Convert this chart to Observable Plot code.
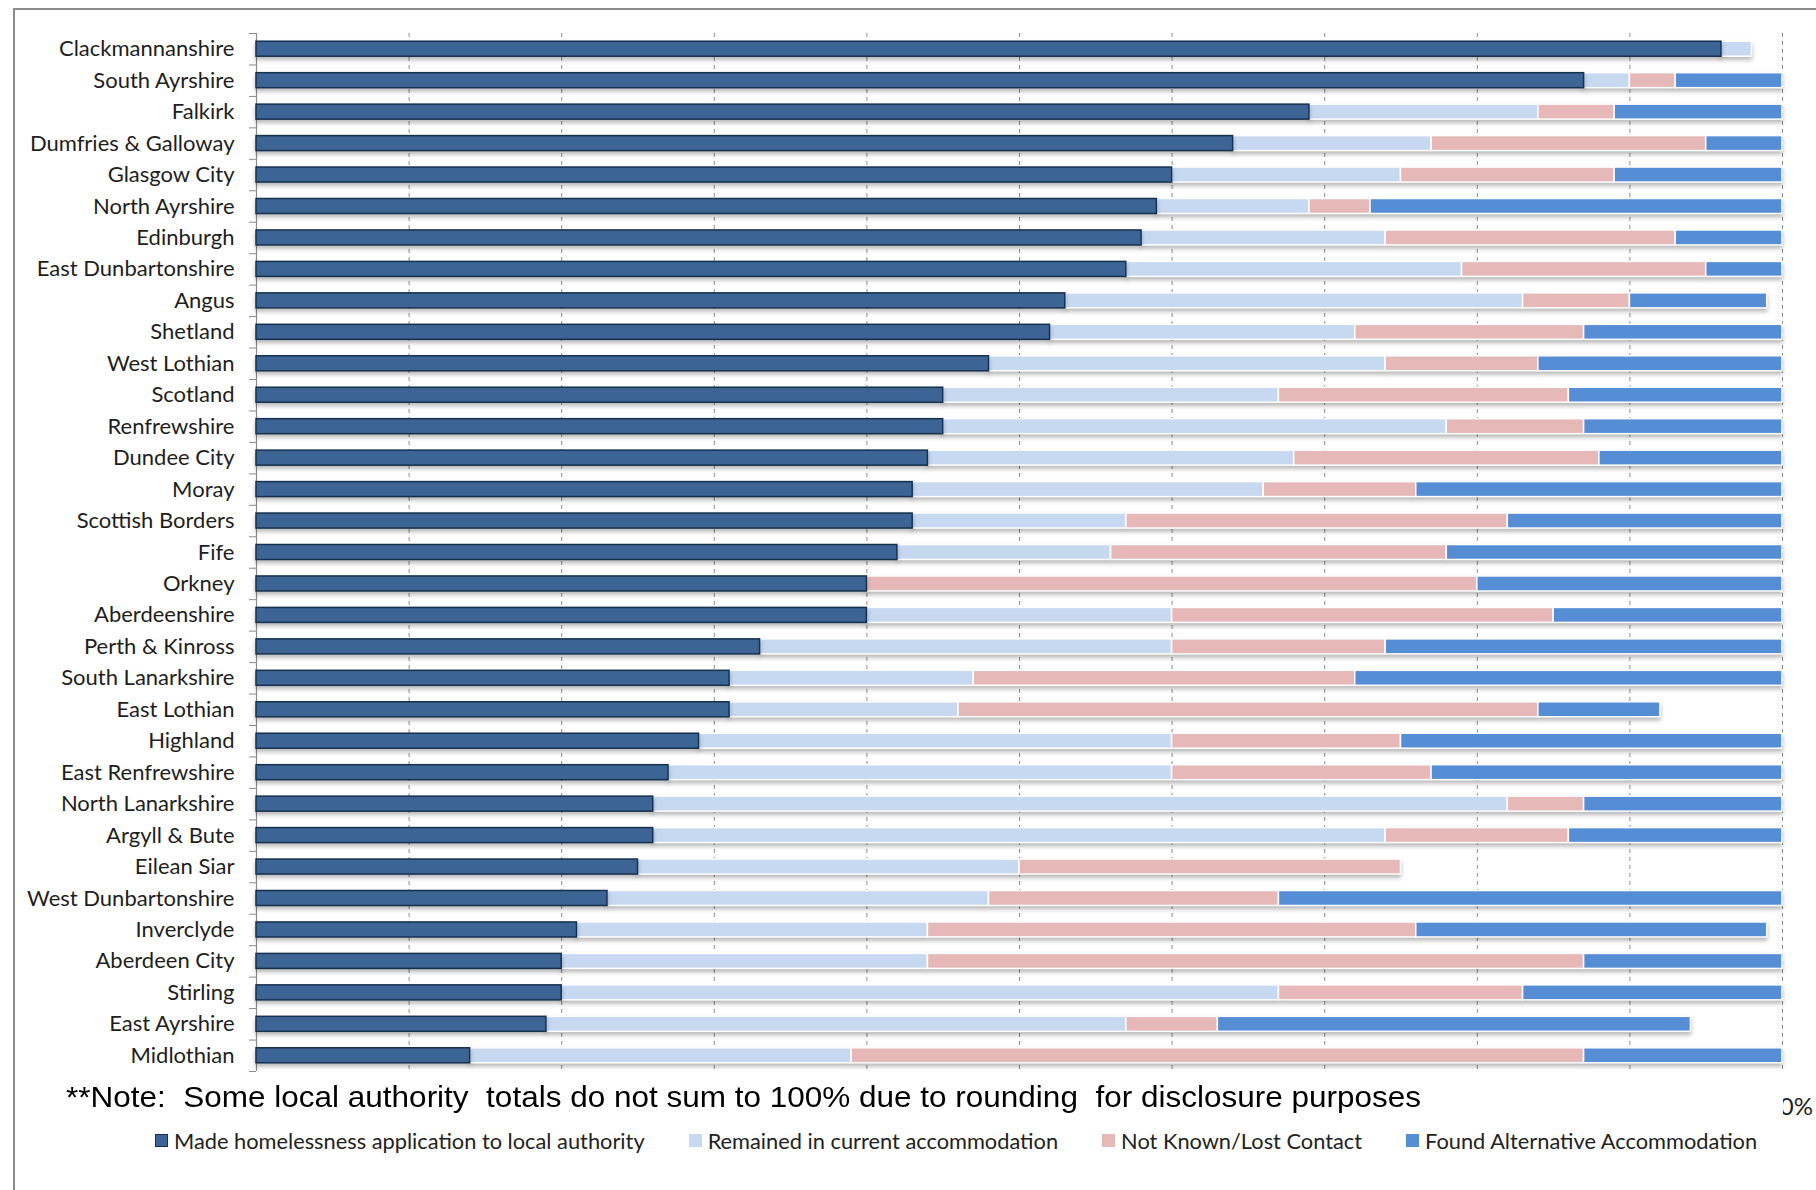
<!DOCTYPE html>
<html><head><meta charset="utf-8">
<script src="https://cdn.jsdelivr.net/npm/d3@7"></script>
<script src="https://cdn.jsdelivr.net/npm/@observablehq/plot@0.6"></script>
<style>
body{margin:0;background:#fff;}
#wrap{position:relative;width:1816px;height:1190px;overflow:hidden;background:#fff;}
#frame{position:absolute;left:13px;top:8px;width:2000px;height:2000px;border-left:2px solid #8c8c8c;border-top:2px solid #8c8c8c;}
#chart{position:absolute;left:0;top:0;}
#chart g[aria-label="bar"]{filter:drop-shadow(0px 3px 2px rgba(0,0,0,0.28));}
#note{position:absolute;left:16px;top:1074px;width:1767px;height:50px;background:#fff;}
#note span{position:absolute;left:50px;top:6px;font-family:"Liberation Sans",Arial,sans-serif;font-size:29px;line-height:34px;white-space:pre;color:#000;transform-origin:0 50%;}
#legend{position:absolute;left:155px;top:1127px;display:flex;gap:44px;font-family:Lato,sans-serif;font-size:21.8px;color:#222;white-space:nowrap;}
#legend .it{display:flex;align-items:center;gap:6px;}
#legend .sw{width:13px;height:13px;box-sizing:border-box;}
</style></head>
<body>
<div id="wrap">
  <div id="frame"></div>
  <div id="chart"></div>
  <div id="note"><span id="notetext"></span></div>
  <div id="legend"></div>
</div>
<script>
const names = ["Clackmannanshire","South Ayrshire","Falkirk","Dumfries & Galloway","Glasgow City","North Ayrshire","Edinburgh","East Dunbartonshire","Angus","Shetland","West Lothian","Scotland","Renfrewshire","Dundee City","Moray","Scottish Borders","Fife","Orkney","Aberdeenshire","Perth & Kinross","South Lanarkshire","East Lothian","Highland","East Renfrewshire","North Lanarkshire","Argyll & Bute","Eilean Siar","West Dunbartonshire","Inverclyde","Aberdeen City","Stirling","East Ayrshire","Midlothian"];
const madeApplication = [96,87,69,64,60,59,58,57,53,52,48,45,45,44,43,43,42,40,40,33,31,31,29,27,26,26,25,23,21,20,20,19,14];
const remained        = [2,3,15,13,15,10,16,22,30,20,26,22,33,24,23,14,14,0,20,27,16,15,31,33,56,48,25,25,23,24,47,38,25];
const notKnown        = [0,3,5,18,14,4,19,16,7,15,10,19,9,20,10,25,22,40,25,14,25,38,15,17,5,12,25,19,32,43,16,6,48];
const foundAlt        = [0,7,11,5,11,27,7,5,9,13,16,14,13,12,24,18,22,20,15,26,28,8,25,23,13,14,0,33,23,13,17,31,13];
const seriesNames = ["Made homelessness application to local authority","Remained in current accommodation","Not Known/Lost Contact","Found Alternative Accommodation"];
const seriesColors = ["#3C6494","#C6D9F1","#E6B9B8","#558ED5"];
const xTicks = [0,0.1,0.2,0.3,0.4,0.5,0.6,0.7,0.8,0.9,1];
const noteText = "**Note:  Some local authority  totals do not sum to 100% due to rounding  for disclosure purposes";

const seriesData = [madeApplication, remained, notKnown, foundAlt];
const rows = [];
names.forEach((n, i) => {
  let acc = 0;
  seriesData.forEach((arr, k) => {
    const v = arr[i] / 100;
    if (v > 0) rows.push({name: n, series: seriesNames[k], k, x1: acc, x2: acc + v});
    acc += v;
  });
});

const W = 1816, H = 1190, mT = 33, mB = H - 1071, mL = 256, mR = W - 1782;
const step = (H - mT - mB) / names.length;
const inset = (step - 15) / 2;
const tickLen = 7 / (W - mL - mR);

const chart = Plot.plot({
  width: W, height: H,
  marginTop: mT, marginBottom: mB, marginLeft: mL, marginRight: mR,
  style: {fontFamily: "Lato, sans-serif", background: "transparent"},
  x: {domain: [0, 1], axis: null},
  y: {domain: names, padding: 0, round: false, axis: null},
  color: {domain: seriesNames, range: seriesColors},
  marks: [
    Plot.ruleX(xTicks.slice(1), {stroke: "#8a8a8a", strokeDasharray: "4,4", strokeWidth: 1}),
    Plot.ruleX([0], {stroke: "#8a8a8a", strokeWidth: 1.2}),
    Plot.ruleY(names, {y: d => d, dy: -step / 2, x1: -tickLen, x2: 0, stroke: "#8a8a8a"}),
    Plot.ruleY(names.slice(-1), {y: d => d, dy: step / 2, x1: -tickLen, x2: 0, stroke: "#8a8a8a"}),
    Plot.barX(rows.filter(d => d.k > 0), {x1: "x1", x2: "x2", y: "name", fill: "series", insetTop: inset, insetBottom: inset, stroke: "#ffffff", strokeWidth: 1.5}),
    Plot.barX(rows.filter(d => d.k === 0), {x1: "x1", x2: "x2", y: "name", fill: "series", insetTop: inset, insetBottom: inset, stroke: "#16304f", strokeWidth: 1.5}),
    Plot.axisY({tickSize: 0, tickPadding: 22, fontSize: 22, color: "#1e1e1e", label: null}),
    Plot.axisX(xTicks.slice(-1), {tickFormat: d3.format(".0%"), tickSize: 0, tickPadding: 26, fontSize: 24, color: "#1e1e1e", label: null})
  ]
});
document.getElementById("chart").appendChild(chart);

// note (its white box hides the x tick labels, as in the original)
const nt = document.getElementById("notetext");
nt.textContent = noteText;
const wNow = nt.getBoundingClientRect().width;
nt.style.transform = `scaleX(${1355 / wNow})`;

// legend
const lg = document.getElementById("legend");
seriesNames.forEach((s, k) => {
  const it = document.createElement("div"); it.className = "it";
  const sw = document.createElement("div"); sw.className = "sw";
  sw.style.background = seriesColors[k];
  if (k === 0) sw.style.border = "1.5px solid #16304f";
  const tx = document.createElement("span"); tx.textContent = s;
  it.appendChild(sw); it.appendChild(tx); lg.appendChild(it);
});
</script>
</body></html>
